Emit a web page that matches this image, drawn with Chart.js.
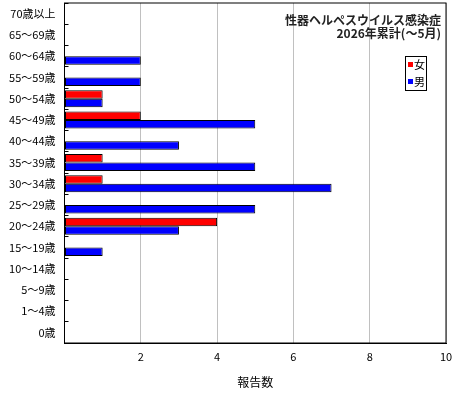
<!DOCTYPE html>
<html>
<head>
<meta charset="utf-8">
<script src="https://cdn.jsdelivr.net/npm/chart.js@4.4.1/dist/chart.umd.min.js"></script>
<style>
    html, body { margin: 0; padding: 0; background: #fff; }
    canvas { display: block; }
</style>
</head>
<body>
<canvas id="herpesChart" width="460" height="400"></canvas>
<script>
const ageLabels = [
    "70歳以上", "65～69歳", "60～64歳", "55～59歳", "50～54歳", "45～49歳",
    "40～44歳", "35～39歳", "30～34歳", "25～29歳", "20～24歳", "15～19歳",
    "10～14歳", "5～9歳", "1～4歳", "0歳"
];
const femaleCounts = [0, 0, 0, 0, 1, 2, 0, 1, 1, 0, 4, 0, 0, 0, 0, 0];
const maleCounts   = [0, 0, 2, 2, 1, 5, 3, 5, 7, 5, 3, 1, 0, 0, 0, 0];
const seriesNames = ["女", "男"];
const titleLines = ["性器ヘルペスウイルス感染症", "2026年累計(～5月)"];
const xAxisTitle = "報告数";

const FONT = "'Noto Sans CJK JP', 'Noto Sans', sans-serif";

// frame around the plot, title and legend drawn inside the chart area
const insidePlotExtras = {
    id: "insidePlotExtras",
    afterDatasetsDraw(chart) {
        const { ctx, chartArea } = chart;
        ctx.save();

        ctx.strokeStyle = "#000";
        ctx.lineWidth = 1;
        ctx.strokeRect(chartArea.left, chartArea.top, chartArea.right - chartArea.left, chartArea.bottom - chartArea.top);

        ctx.fillStyle = "#222";
        ctx.font = "bold 12px " + FONT;
        ctx.textAlign = "right";
        ctx.textBaseline = "middle";
        titleLines.forEach((line, i) => {
            ctx.fillText(line, chartArea.right - 5, chartArea.top + 17 + i * 13);
        });

        // legend box
        ctx.font = "11px " + FONT;
        const datasets = chart.data.datasets;
        const textW = Math.max(...datasets.map(d => ctx.measureText(d.label).width));
        const sq = 5, pad = 2, gap = 1, rowH = 17;
        const boxW = Math.round(pad + sq + gap + textW + pad);
        const boxH = rowH * datasets.length;
        const boxRight = Math.round(chartArea.right - 20);
        const boxTop = Math.round(chartArea.top + 53);
        const boxLeft = boxRight - boxW;

        ctx.fillStyle = "#fff";
        ctx.fillRect(boxLeft, boxTop, boxW, boxH);
        ctx.strokeRect(boxLeft + 0.5, boxTop + 0.5, boxW, boxH);

        ctx.textAlign = "left";
        datasets.forEach((d, i) => {
            const cy = boxTop + rowH * i + rowH / 2;
            ctx.fillStyle = d.backgroundColor;
            ctx.fillRect(boxLeft + pad + 1, Math.round(cy - sq / 2), sq, sq);
            ctx.fillStyle = "#000";
            ctx.fillText(d.label, boxLeft + pad + 1 + sq + gap, cy);
        });

        ctx.restore();
    }
};

const ctx = document.getElementById("herpesChart").getContext("2d");

new Chart(ctx, {
    type: "bar",
    data: {
        labels: ageLabels,
        datasets: [
            {
                label: seriesNames[0],
                data: femaleCounts,
                backgroundColor: "#ff0000",
                borderColor: "#000",
                borderWidth: 1,
                borderSkipped: false,
                barPercentage: 1.0,
                categoryPercentage: 0.8
            },
            {
                label: seriesNames[1],
                data: maleCounts,
                backgroundColor: "#0000ff",
                borderColor: "#000",
                borderWidth: 1,
                borderSkipped: false,
                barPercentage: 1.0,
                categoryPercentage: 0.8
            }
        ]
    },
    options: {
        indexAxis: "y",
        responsive: false,
        animation: false,
        layout: {
            padding: { left: 0, top: 3, right: 14, bottom: 0 }
        },
        plugins: {
            legend: { display: false },
            tooltip: { enabled: false }
        },
        scales: {
            x: {
                min: 0,
                max: 10,
                ticks: {
                    stepSize: 2,
                    color: "#000",
                    padding: 7,
                    font: { family: FONT, size: 11 },
                    callback: v => (v === 0 ? "" : v)
                },
                grid: {
                    color: "#c0c0c0",
                    drawTicks: false
                },
                border: { color: "#000" },
                title: {
                    display: true,
                    text: xAxisTitle,
                    color: "#000",
                    font: { family: FONT, size: 12 },
                    padding: { top: 0, bottom: 10 }
                },
                afterFit: scale => { scale.height = 57; }
            },
            y: {
                grid: {
                    drawOnChartArea: false,
                    drawTicks: true,
                    tickLength: -4,
                    color: "#000",
                    offset: true
                },
                border: { color: "#000" },
                ticks: {
                    color: "#000",
                    padding: 13,
                    font: { family: FONT, size: 11 }
                },
                afterFit: scale => {
                    scale.width = 64.5;
                    scale.paddingTop = 0;
                    scale.paddingBottom = 0;
                }
            }
        }
    },
    plugins: [insidePlotExtras]
});
</script>
</body>
</html>
